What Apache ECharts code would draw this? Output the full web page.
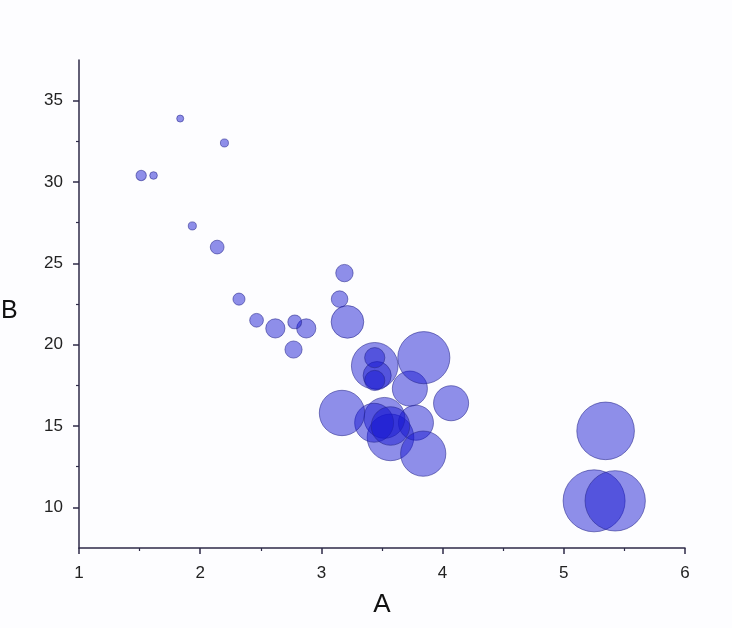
<!DOCTYPE html>
<html>
<head>
<meta charset="utf-8">
<script src="https://cdn.jsdelivr.net/npm/echarts@6/dist/echarts.min.js"></script>
<style>
html,body{margin:0;padding:0;background:#fdfdff;}
#chart{width:732px;height:628px;}
</style>
</head>
<body>
<div id="chart"></div>
<script>
// A values (x)
const aValues = [2.620, 2.875, 2.320, 3.215, 3.440, 3.460, 3.570, 3.190, 3.150, 3.440, 3.440, 4.070, 3.730, 3.780, 5.250, 5.424, 5.345, 2.200, 1.615, 1.835, 2.465, 3.520, 3.435, 3.840, 3.845, 1.935, 2.140, 1.513, 3.170, 2.770, 3.570, 2.780];
// B values (y)
const bValues = [21.0, 21.0, 22.8, 21.4, 18.7, 18.1, 14.3, 24.4, 22.8, 19.2, 17.8, 16.4, 17.3, 15.2, 10.4, 10.4, 14.7, 32.4, 30.4, 33.9, 21.5, 15.5, 15.2, 13.3, 19.2, 27.3, 26.0, 30.4, 15.8, 19.7, 15.0, 21.4];
// bubble size values
const sizeValues = [160, 160, 108, 258, 360, 225, 360, 146.7, 140.8, 167.6, 167.6, 275.8, 275.8, 275.8, 472, 460, 440, 78.7, 75.7, 71.1, 120.1, 318, 304, 350, 400, 79, 120.3, 95.1, 351, 145, 301, 121];
const xTicks = [1, 2, 3, 4, 5, 6];
const yTicks = [10, 15, 20, 25, 30, 35];
const yMinorTicks = [12.5, 17.5, 22.5, 27.5, 32.5];

const data = aValues.map((a, i) => [a, bValues[i], sizeValues[i]]);

const axisColor = '#2e2a48';
const chart = echarts.init(document.getElementById('chart'), null, {renderer: 'canvas'});
chart.setOption({
  backgroundColor: '#fdfdff',
  animation: false,
  grid: {left: 79, right: 47, top: 60, bottom: 80},
  graphic: [{
    type: 'text', left: 1, top: 299,
    style: {text: 'B', fontFamily: 'Liberation Sans', fontSize: 25, fill: '#111'}
  }],
  xAxis: {
    type: 'value', min: 1, max: 6, interval: 1,
    name: 'A', nameLocation: 'middle', nameGap: 44,
    nameTextStyle: {fontFamily: 'Liberation Sans', fontSize: 26, color: '#111'},
    splitLine: {show: false},
    axisLine: {show: true, lineStyle: {color: axisColor, width: 1.5}},
    axisTick: {show: true, length: 6, lineStyle: {color: axisColor, width: 1.5}},
    minorTick: {show: true, splitNumber: 2, length: 3, lineStyle: {color: axisColor, width: 1.2}},
    axisLabel: {fontFamily: 'Liberation Sans', fontSize: 17, color: '#222', margin: 17,
      customValues: xTicks}
  },
  yAxis: [{
    type: 'value', min: 7.5, max: 37.5,
    splitLine: {show: false},
    axisLine: {show: true, lineStyle: {color: axisColor, width: 1.5}},
    axisTick: {show: true, length: 6, customValues: yTicks, lineStyle: {color: axisColor, width: 1.5}},
    axisLabel: {fontFamily: 'Liberation Sans', fontSize: 17, color: '#222', margin: 16,
      customValues: yTicks}
  }, {
    type: 'value', min: 7.5, max: 37.5, position: 'left',
    splitLine: {show: false},
    axisLine: {show: false},
    axisTick: {show: true, length: 3, customValues: yMinorTicks, lineStyle: {color: axisColor, width: 1.2}},
    axisLabel: {show: false}
  }],
  visualMap: {
    show: false, type: 'continuous', dimension: 2,
    min: 71.1, max: 472,
    inRange: {symbolSize: [7, 62]}
  },
  series: [{
    type: 'scatter',
    yAxisIndex: 0,
    data: data,
    itemStyle: {
      color: 'rgba(20,20,210,0.6)',
      borderColor: 'rgba(40,40,140,0.7)',
      borderWidth: 1
    },
    emphasis: {disabled: true}
  }]
});
</script>
</body>
</html>
